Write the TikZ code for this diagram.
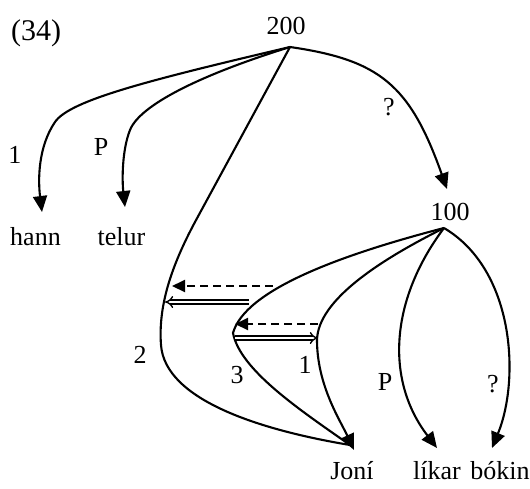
\documentclass[tikz,border=0pt]{standalone}
\usepackage{fontspec}
\setmainfont{Liberation Serif}
\usetikzlibrary{arrows.meta}
\begin{document}
\begin{tikzpicture}[x=1pt,y=-1pt,
  lbl/.style={font=\fontsize{26}{31}\selectfont, inner sep=0pt, anchor=base},
  edge/.style={line width=2.1pt},
  arr/.style={edge,-{Triangle[length=16pt,width=14pt]}},
  dasharr/.style={line width=2pt, dash pattern=on 8pt off 5pt, -{Triangle[length=13pt,width=12pt]}},
  dblarr/.style={line width=1.4pt, double distance=2.6pt, -{Implies}}]
\useasboundingbox (0,0) rectangle (530,488);
% texts
\node[lbl, font=\fontsize{30}{36}\selectfont] (ex) at (36,40) {(34)};
\node[lbl] (n200) at (286,34) {200};
\node[lbl] (n100) at (450,220) {100};
\node[lbl] (hann) at (35.5,245) {hann};
\node[lbl] (telur) at (121.5,245) {telur};
\node[lbl] (joni) at (352,479) {Joní};
\node[lbl] (likar) at (437,479) {líkar};
\node[lbl] (bokin) at (500,479) {bókin};
% edge labels
\node[lbl] (l1) at (15,163) {1};
\node[lbl] (lP) at (101,155) {P};
\node[lbl] (lq) at (389,115) {?};
\node[lbl] (l2) at (140,363) {2};
\node[lbl] (l3) at (237,383) {3};
\node[lbl] (l1b) at (305,373) {1};
\node[lbl] (lPb) at (385,390) {P};
\node[lbl] (lqb) at (493,392) {?};
% junction points
\coordinate (r200) at (290,47);
\coordinate (r100) at (444,228);
\coordinate (thann) at (42,212);
\coordinate (ttelur) at (125,207);
\coordinate (t100) at (447,189);
\coordinate (tjoni) at (354,450);
\coordinate (ejoni) at (350,445);
\coordinate (tlikar) at (437,448);
\coordinate (tbokin) at (492,448);
% from 200
\draw[arr] (r200) .. controls (150,80) and (70,100) .. (55,122) .. controls (38,147) and (38,180) .. (thann);
\draw[arr] (r200) .. controls (200,75) and (140,105) .. (130,130) .. controls (122,150) and (122,180) .. (ttelur);
\draw[edge] (r200) -- (195,222) .. controls (172,265) and (158,305) .. (161,345) .. controls (165,400) and (260,430) .. (ejoni);
\draw[arr] (r200) .. controls (380,60) and (410,85) .. (t100);
% from 100
\draw[edge] (r100) .. controls (340,255) and (245,290) .. (233,333) .. controls (240,370) and (300,410) .. (ejoni);
\draw[arr] (r100) .. controls (380,260) and (318,300) .. (317,340) .. controls (317,385) and (340,420) .. (tjoni);
\draw[arr] (r100) .. controls (390,300) and (385,380) .. (tlikar);
\draw[arr] (r100) .. controls (515,270) and (520,380) .. (tbokin);
% movement arrows
\coordinate (d1s) at (273,286);
\coordinate (d1e) at (172,286);
\coordinate (m1s) at (249,302);
\coordinate (m1e) at (165,302);
\coordinate (d2s) at (318,324);
\coordinate (d2e) at (235,324);
\coordinate (m2s) at (235,338);
\coordinate (m2e) at (318,338);
\draw[dasharr] (d1s) -- (d1e);
\draw[dblarr] (m1s) -- (m1e);
\draw[dasharr] (d2s) -- (d2e);
\draw[dblarr] (m2s) -- (m2e);
\end{tikzpicture}
\end{document}
